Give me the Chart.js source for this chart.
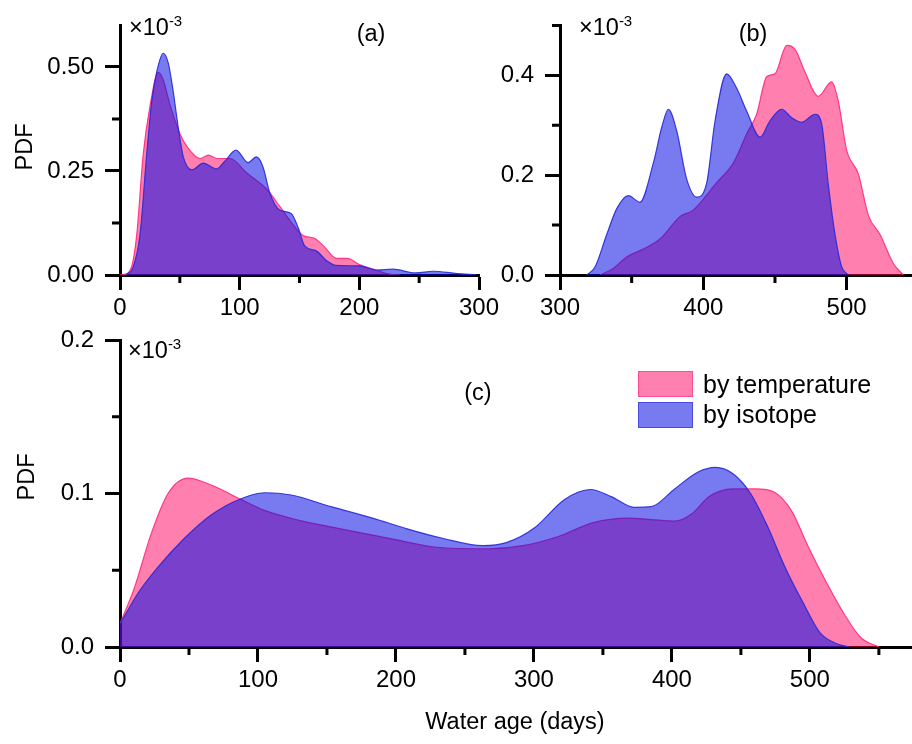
<!DOCTYPE html>
<html>
<head>
<meta charset="utf-8">
<script src="https://cdn.jsdelivr.net/npm/chart.js@4.4.1/dist/chart.umd.min.js"></script>
<style>
    body { margin: 0; background: #fff; }
    #wrap { position: relative; width: 912px; height: 744px; overflow: hidden; font-family: "Liberation Sans", Arial, sans-serif; color: #000; }
    #wrap canvas { position: absolute; left: 0; top: 0; }
    .lbl { position: absolute; font-size: 23.5px; white-space: nowrap; line-height: 1; }
    .sci sup { font-size: 15px; vertical-align: 9px; line-height: 0; }
    .rot { transform: translate(-50%, -50%) rotate(-90deg); }
    .ctr { transform: translate(-50%, -50%); }
    .box { position: absolute; width: 53px; height: 24px; }
</style>
</head>
<body>
<div id="wrap">
    <canvas id="panelA" width="912" height="744"></canvas>
    <canvas id="panelB" width="912" height="744"></canvas>
    <canvas id="panelC" width="912" height="744"></canvas>

    <div class="lbl rot" style="left:25px;top:147px;">PDF</div>
    <div class="lbl rot" style="left:27px;top:477px;">PDF</div>
    <div class="lbl ctr" style="left:515px;top:722px;">Water age (days)</div>

    <div class="lbl ctr" style="left:371px;top:34px;">(a)</div>
    <div class="lbl ctr" style="left:753px;top:34px;">(b)</div>
    <div class="lbl ctr" style="left:478px;top:393px;">(c)</div>

    <div class="lbl sci" style="left:129px;top:16px;">×10<sup>-3</sup></div>
    <div class="lbl sci" style="left:579px;top:16px;">×10<sup>-3</sup></div>
    <div class="lbl sci" style="left:128px;top:339px;">×10<sup>-3</sup></div>

    <div class="box" style="left:638px;top:371px;background:rgba(255,0,96,0.5);border:1.5px solid #ff4d96;"></div>
    <div class="box" style="left:638px;top:402px;background:rgba(10,13,228,0.55);border:1.5px solid #4a4ae0;"></div>
    <div class="lbl" style="left:703px;top:372px;font-size:25px;">by temperature</div>
    <div class="lbl" style="left:703px;top:402px;font-size:25px;">by isotope</div>
</div>
<script>
// panel (a)
const ageA_temp = [0, 3, 9.7, 14, 19.4, 25, 32, 36, 41.7, 50, 55.7, 67, 74, 81, 92, 106, 123, 134, 145, 153.6, 162, 170, 181, 190, 200, 214, 225, 234];
const pdfA_temp = [0, 0.001, 0.02, 0.097, 0.29, 0.405, 0.487, 0.47, 0.41, 0.34, 0.31, 0.28, 0.288, 0.28, 0.28, 0.245, 0.205, 0.163, 0.12, 0.094, 0.089, 0.07, 0.04, 0.04, 0.025, 0.012, 0.002, 0];
const ageA_iso = [5, 11, 16.7, 22.3, 26.5, 30.6, 36.1, 40.3, 44.5, 48.7, 52.9, 60, 69.6, 80.7, 88, 97, 107, 114, 119.5, 125, 133.4, 143, 149, 154.3, 164, 172.4, 180.7, 200, 214, 228, 247, 262, 280, 298];
const pdfA_iso = [0, 0.019, 0.097, 0.29, 0.417, 0.487, 0.533, 0.51, 0.44, 0.354, 0.284, 0.253, 0.269, 0.255, 0.275, 0.30, 0.27, 0.284, 0.26, 0.199, 0.156, 0.148, 0.113, 0.07, 0.058, 0.035, 0.023, 0.022, 0.012, 0.014, 0.005, 0.009, 0.004, 0];

// panel (b)
const ageB_temp = [327.9, 337.2, 346.5, 358.1, 369.8, 383.7, 393, 409.3, 420.9, 430.3, 437.2, 444.2, 450, 458.2, 464, 471, 480.2, 489.5, 494.2, 500, 508.2, 515.1, 523.3, 532.6, 539.5];
const pdfB_temp = [0, 0.013, 0.036, 0.052, 0.072, 0.117, 0.13, 0.185, 0.224, 0.283, 0.322, 0.397, 0.403, 0.46, 0.452, 0.406, 0.358, 0.387, 0.348, 0.25, 0.202, 0.12, 0.081, 0.023, 0];
const ageB_iso = [318.6, 324.4, 332.6, 339.6, 347.7, 355.8, 365.1, 371, 375.6, 381.4, 388.4, 395.4, 402.4, 408.2, 416.3, 423.3, 430.3, 439.6, 446.5, 454.7, 461.7, 468.6, 478, 482.6, 487.3, 491.9, 496.6, 501.3];
const pdfB_iso = [0, 0.016, 0.081, 0.133, 0.159, 0.146, 0.224, 0.296, 0.332, 0.289, 0.192, 0.156, 0.185, 0.309, 0.403, 0.374, 0.328, 0.276, 0.309, 0.332, 0.315, 0.306, 0.322, 0.302, 0.179, 0.081, 0.016, 0];

// panel (c)
const ageC_temp = [0, 10.6, 22.7, 34.8, 49.3, 66, 88, 104.8, 129, 158, 199.6, 229, 267, 292, 317.7, 343, 368, 385, 402, 414.8, 427, 444, 461, 474, 486.5, 499, 512, 524.5, 537, 550];
const pdfC_temp = [0.015, 0.039, 0.074, 0.100, 0.110, 0.1055, 0.096, 0.089, 0.0827, 0.0773, 0.070, 0.065, 0.064, 0.066, 0.072, 0.081, 0.084, 0.083, 0.082, 0.087, 0.098, 0.103, 0.103, 0.101, 0.089, 0.065, 0.042, 0.022, 0.006, 0];
const ageC_iso = [0, 13, 27.5, 46.9, 66, 85.5, 104.8, 124, 153, 183, 208, 233, 263, 280, 301, 322, 341, 356, 372.6, 385, 402, 419, 431.6, 444, 457, 469.6, 482, 495, 507.6, 520, 528.7];
const pdfC_iso = [0.015, 0.035, 0.052, 0.071, 0.086, 0.0958, 0.1005, 0.099, 0.0914, 0.084, 0.077, 0.071, 0.066, 0.068, 0.078, 0.096, 0.1026, 0.098, 0.091, 0.0914, 0.103, 0.114, 0.117, 0.113, 0.100, 0.078, 0.052, 0.029, 0.009, 0.002, 0];

// ticks
const xTicksA = [0, 100, 200, 300], xMinorA = [50, 150, 250];
const yTicksA = [0, 0.25, 0.5], yMinorA = [0.125, 0.375];
const xTicksB = [300, 400, 500], xMinorB = [350, 450];
const yTicksB = [0, 0.2, 0.4], yMinorB = [0.1, 0.3, 0.5];
const xTicksC = [0, 100, 200, 300, 400, 500], xMinorC = [50, 150, 250, 350, 450, 550];
const yTicksC = [0, 0.1, 0.2], yMinorC = [0.05, 0.15];

const FONT = { family: '"Liberation Sans", Arial, sans-serif', size: 24 };
const PINK_FILL = 'rgba(255,0,96,0.5)', PINK_LINE = 'rgba(255,40,130,0.9)';
const BLUE_FILL = 'rgba(10,13,228,0.55)', BLUE_LINE = 'rgba(40,40,215,0.9)';

// short outward ticks between the labelled ones
const minorTicks = {
    id: 'minorTicks',
    afterDraw(chart, args, opts) {
        const ctx = chart.ctx;
        const xs = chart.scales.x, ys = chart.scales.y;
        const a = chart.chartArea;
        ctx.save();
        ctx.strokeStyle = '#000';
        ctx.lineWidth = 3;
        ctx.beginPath();
        opts.x.forEach(v => {
            const px = xs.getPixelForValue(v);
            if (px > a.right + 1) return;
            ctx.moveTo(px, a.bottom);
            ctx.lineTo(px, a.bottom + 8);
        });
        opts.y.forEach(v => {
            const py = ys.getPixelForValue(v);
            ctx.moveTo(a.left, py);
            ctx.lineTo(a.left - 8, py);
        });
        ctx.stroke();
        ctx.restore();
    }
};

function pts(xs, ys) {
    return xs.map((x, i) => ({ x: x, y: ys[i] }));
}

function axis(min, max, major, fmt, isY) {
    return {
        type: 'linear',
        min: min,
        max: max,
        afterBuildTicks: s => { s.ticks = major.map(v => ({ value: v })); },
        afterFit: s => { if (isY) s.width = 80; else s.height = 50; },
        ticks: { font: FONT, color: '#000', padding: isY ? 11 : 4, autoSkip: false, maxRotation: 0, callback: fmt },
        grid: { display: true, drawOnChartArea: false, drawTicks: true, tickLength: 15, tickWidth: 3, tickColor: '#000' },
        border: { display: true, width: 3, color: '#000' }
    };
}

function makePanel(id, pad, xAxis, yAxis, minor, tempData, isoData) {
    return new Chart(document.getElementById(id), {
        type: 'line',
        data: {
            datasets: [{
                label: 'by temperature',
                data: tempData,
                fill: 'origin',
                backgroundColor: PINK_FILL,
                borderColor: PINK_LINE,
                borderWidth: 1.2,
                pointRadius: 0,
                cubicInterpolationMode: 'monotone',
                order: 2
            }, {
                label: 'by isotope',
                data: isoData,
                fill: 'origin',
                backgroundColor: BLUE_FILL,
                borderColor: BLUE_LINE,
                borderWidth: 1.2,
                pointRadius: 0,
                cubicInterpolationMode: 'monotone',
                order: 1
            }]
        },
        options: {
            responsive: false,
            animation: false,
            events: [],
            layout: { padding: pad },
            plugins: { legend: { display: false }, tooltip: { enabled: false }, minorTicks: minor },
            scales: { x: xAxis, y: yAxis }
        },
        plugins: [minorTicks]
    });
}

const fmt0 = v => String(v);
const fmt1 = v => v.toFixed(1);
const fmt2 = v => v.toFixed(2);

makePanel('panelA', { left: 40, right: 433, top: 18, bottom: 419 },
    axis(0, 300, xTicksA, fmt0, false), axis(0, 0.6, yTicksA, fmt2, true),
    { x: xMinorA, y: yMinorA }, pts(ageA_temp, pdfA_temp), pts(ageA_iso, pdfA_iso));

makePanel('panelB', { left: 480, right: 0, top: 18, bottom: 419 },
    axis(300, 545.6, xTicksB, fmt0, false), axis(0, 0.5, yTicksB, fmt1, true),
    { x: xMinorB, y: yMinorB }, pts(ageB_temp, pdfB_temp), pts(ageB_iso, pdfB_iso));

makePanel('panelC', { left: 40, right: 0, top: 340, bottom: 47 },
    axis(0, 574, xTicksC, fmt0, false), axis(0, 0.2, yTicksC, fmt1, true),
    { x: xMinorC, y: yMinorC }, pts(ageC_temp, pdfC_temp), pts(ageC_iso, pdfC_iso));
</script>
</body>
</html>
